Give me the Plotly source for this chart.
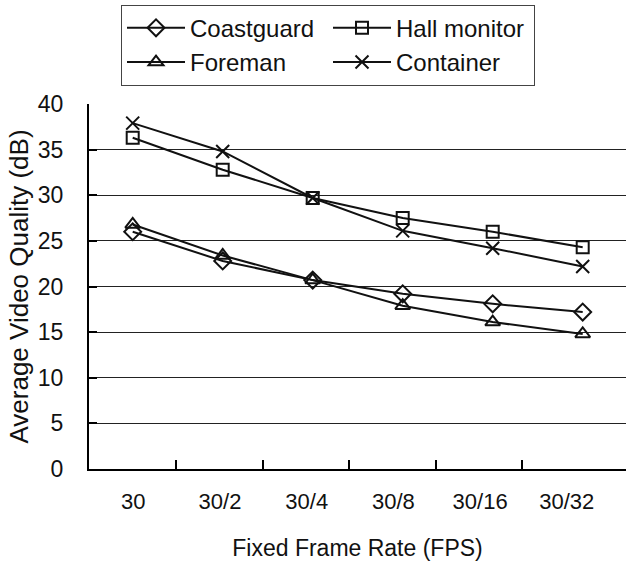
import plotly.graph_objects as go

# Frame-rate categories (x axis) and average quality per sequence (dB)
frame_rates = ["30", "30/2", "30/4", "30/8", "30/16", "30/32"]
coastguard = [26.0, 22.8, 20.7, 19.2, 18.1, 17.2]
hall_monitor = [36.3, 32.8, 29.7, 27.5, 26.0, 24.3]
foreman = [26.8, 23.4, 20.7, 17.9, 16.1, 14.8]
container = [37.9, 34.8, 29.7, 26.1, 24.2, 22.2]

FONT = "Liberation Sans, Arial, sans-serif"
INK = "#111111"

x_idx = list(range(len(frame_rates)))

series = [
    ("Coastguard", coastguard, "diamond-open", 13),
    ("Hall monitor", hall_monitor, "square-open", 12),
    ("Foreman", foreman, "triangle-up-open", 13),
    ("Container", container, "x-thin-open", 13),
]

fig = go.Figure()
for name, vals, sym, size in series:
    fig.add_trace(go.Scatter(
        x=x_idx, y=vals, name=name, mode="lines+markers",
        line=dict(color=INK, width=2),
        marker=dict(symbol=sym, size=size, color=INK,
                    line=dict(color=INK, width=2)),
    ))

# category labels sit slightly tighter than the plotted points
label_step = 0.9633
label_pos = [0.0067 + label_step * i for i in x_idx]
boundary_pos = [0.481 + 0.9622 * k for k in range(len(frame_rates) - 1)]

fig.update_layout(
    width=626, height=563,
    margin=dict(l=89, r=0, t=104, b=94),
    paper_bgcolor="white", plot_bgcolor="white",
    font=dict(family=FONT, color=INK, size=22),
    showlegend=True,
    legend=dict(
        orientation="h", x=0.0596, y=1.272, xanchor="left", yanchor="top",
        bgcolor="white", bordercolor="#444", borderwidth=1,
        font=dict(size=24, family=FONT, color=INK),
        entrywidth=133, itemwidth=58, traceorder="normal",
    ),
    xaxis=dict(
        range=[-0.4856, 5.4811], showgrid=False, zeroline=False,
        tickmode="array", tickvals=label_pos, ticktext=frame_rates,
        ticks="", ticklabelstandoff=12,
        tickfont=dict(size=22),
        showline=True, linecolor="black", linewidth=2,
        minor=dict(tickmode="array", tickvals=boundary_pos, ticks="inside",
                   ticklen=9, tickwidth=1.5, tickcolor="black", showgrid=False),
        title=dict(text="Fixed Frame Rate (FPS)", font=dict(size=23), standoff=26),
    ),
    yaxis=dict(
        range=[0, 40], dtick=5, tick0=0,
        showgrid=True, gridcolor="#222", gridwidth=1, zeroline=False,
        showline=True, linecolor="black", linewidth=2,
        ticks="inside", ticklen=8, tickwidth=1.5, tickcolor="black",
        ticklabelstandoff=19, tickfont=dict(size=23),
        title=dict(text="Average Video Quality (dB)", font=dict(size=26), standoff=2),
    ),
)

fig.write_html("out.html")
